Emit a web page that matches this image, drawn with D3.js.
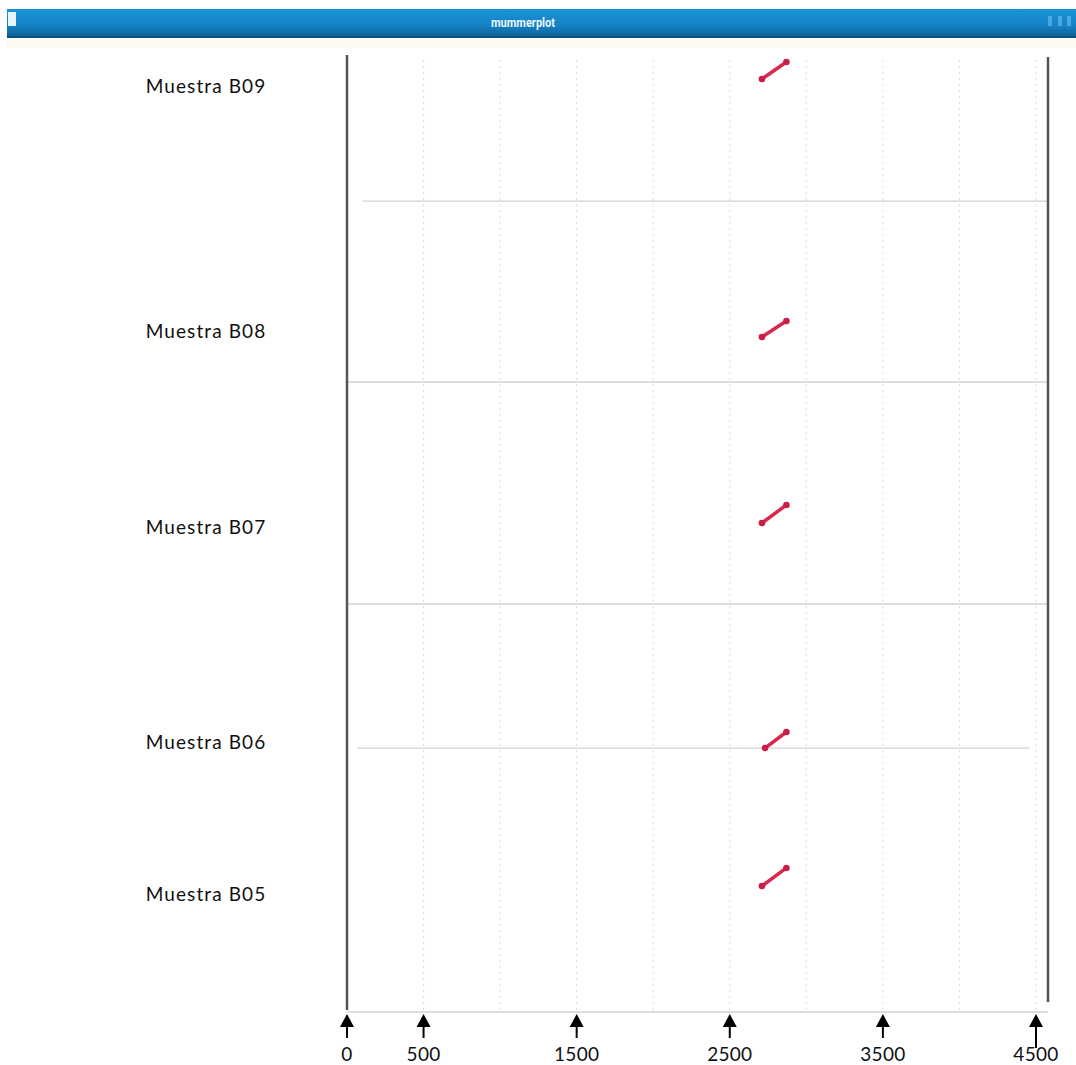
<!DOCTYPE html>
<html>
<head>
<meta charset="utf-8">
<script src="https://cdn.jsdelivr.net/npm/d3@7"></script>
<style>
  body { margin: 0; background: #fff; }
  svg { display: block; }
</style>
</head>
<body>
<div id="chart"></div>
<script>
// samples stacked from the bottom (query axis goes up)
const samples = ["Muestra B05", "Muestra B06", "Muestra B07", "Muestra B08", "Muestra B09"];
// length of each sample block on the y axis
const sampleLengths = [1724, 941, 1450, 1182, 954];
// match for each sample: reference start/end (x), query start/end relative to block (y)
const matchRefStart = [2710, 2730, 2710, 2710, 2710];
const matchRefEnd = [2870, 2870, 2870, 2870, 2870];
const matchQryStart = [823, 0, 529, 294, 797];
const matchQryEnd = [941, 105, 647, 398, 908];
// where each label sits, in block-relative units
const labelAt = [771, 40, 503, 333, 751];
const xTicks = [0, 500, 1500, 2500, 3500, 4500];
const xGrid = [500, 1000, 1500, 2000, 2500, 3000, 3500, 4000, 4500];

const width = 1076, height = 1065;
const margin = {top: 55, right: 28, bottom: 53, left: 347};

const svg = d3.select("#chart").append("svg")
    .attr("width", width)
    .attr("height", height);

// window title bar
const defs = svg.append("defs");
const grad = defs.append("linearGradient").attr("id", "bar").attr("x1", 0).attr("x2", 0).attr("y1", 0).attr("y2", 1);
grad.append("stop").attr("offset", "0%").attr("stop-color", "#1b93d8");
grad.append("stop").attr("offset", "60%").attr("stop-color", "#1581c4");
grad.append("stop").attr("offset", "100%").attr("stop-color", "#0d5f96");
svg.append("rect").attr("x", 7).attr("y", 9).attr("width", width - 7).attr("height", 28).attr("fill", "url(#bar)");
svg.append("rect").attr("x", 7).attr("y", 36).attr("width", width - 7).attr("height", 2).attr("fill", "#0b4f7c");
svg.append("rect").attr("x", 8).attr("y", 12).attr("width", 8).attr("height", 14).attr("fill", "#e8f4fb");
svg.append("rect").attr("x", 7).attr("y", 39).attr("width", width - 7).attr("height", 9).attr("fill", "#fdfbf1");
svg.append("text")
    .attr("x", 523).attr("y", 27)
    .attr("text-anchor", "middle")
    .attr("fill", "#eaf6ff")
    .attr("font-family", "Roboto, sans-serif")
    .attr("font-size", 13)
    .attr("font-weight", "bold")
    .attr("transform", "translate(523,0) scale(0.85,1) translate(-523,0)")
    .text("mummerplot");
[1050, 1060, 1069].forEach(x => {
    svg.append("rect").attr("x", x - 2).attr("y", 16).attr("width", 4).attr("height", 10)
        .attr("fill", "#6cc0ee").attr("opacity", 0.6);
});

// scales
const offsets = d3.cumsum([0, ...sampleLengths]);
const total = offsets[offsets.length - 1];

const x = d3.scaleLinear()
    .domain([0, 4500])
    .range([margin.left, 1036]);

const y = d3.scaleLinear()
    .domain([0, total])
    .range([height - margin.bottom, margin.top]);

// dotted vertical grid
svg.append("g")
    .selectAll("line")
    .data(xGrid)
    .join("line")
    .attr("x1", d => x(d)).attr("x2", d => x(d))
    .attr("y1", margin.top + 5).attr("y2", y(0))
    .attr("stroke", "#dddddd")
    .attr("stroke-width", 1)
    .attr("stroke-dasharray", "2,4");

// horizontal sample boundaries
svg.append("g")
    .selectAll("line")
    .data(offsets.slice(0, -1))
    .join("line")
    .attr("x1", (d, i) => i === 4 ? x(100) : (i === 1 ? x(65) : x(0)))
    .attr("x2", (d, i) => i === 1 ? x(4460) : 1048)
    .attr("y1", d => y(d)).attr("y2", d => y(d))
    .attr("stroke", "#d2d2d2")
    .attr("stroke-width", 1.3);

// left and right frame lines
svg.append("line")
    .attr("x1", x(0)).attr("x2", x(0))
    .attr("y1", margin.top).attr("y2", y(0) - 2)
    .attr("stroke", "#555").attr("stroke-width", 2.5);
svg.append("line")
    .attr("x1", 1048).attr("x2", 1048)
    .attr("y1", margin.top + 2).attr("y2", y(0) - 10)
    .attr("stroke", "#555").attr("stroke-width", 2.5);

// matches
const matches = samples.map((s, i) => ({
    x1: matchRefStart[i], x2: matchRefEnd[i],
    y1: offsets[i] + matchQryStart[i], y2: offsets[i] + matchQryEnd[i]
}));

svg.append("g")
    .selectAll("line")
    .data(matches)
    .join("line")
    .attr("x1", d => x(d.x1)).attr("y1", d => y(d.y1))
    .attr("x2", d => x(d.x2)).attr("y2", d => y(d.y2))
    .attr("stroke", "#d8284e")
    .attr("stroke-width", 3.5)
    .attr("stroke-linecap", "round");

svg.append("g")
    .selectAll("circle")
    .data(matches.flatMap(d => [[d.x1, d.y1], [d.x2, d.y2]]))
    .join("circle")
    .attr("cx", d => x(d[0])).attr("cy", d => y(d[1]))
    .attr("r", 3.3)
    .attr("fill", "#c91f45");

// sample labels
svg.append("g")
    .selectAll("text")
    .data(samples)
    .join("text")
    .attr("x", 206)
    .attr("y", (d, i) => y(offsets[i] + labelAt[i]))
    .attr("dy", "0.35em")
    .attr("text-anchor", "middle")
    .attr("font-family", "Lato, sans-serif")
    .attr("font-size", 19)
    .attr("letter-spacing", 1.1)
    .attr("fill", "#111")
    .text(d => d);

// bottom arrow ticks
const ticks = svg.append("g")
    .selectAll("g")
    .data(xTicks)
    .join("g")
    .attr("transform", d => `translate(${x(d)},0)`);

ticks.append("path")
    .attr("d", "M0,1014 L7,1027 L-7,1027 Z")
    .attr("fill", "#000");
ticks.append("line")
    .attr("y1", 1026).attr("y2", (d, i) => i === xTicks.length - 1 ? 1048 : 1038)
    .attr("stroke", "#000").attr("stroke-width", 2);
ticks.append("text")
    .attr("y", 1061)
    .attr("text-anchor", "middle")
    .attr("font-family", "Lato, sans-serif")
    .attr("font-size", 19)
    .attr("letter-spacing", 0.3)
    .attr("fill", "#111")
    .text(d => d);
</script>
</body>
</html>
